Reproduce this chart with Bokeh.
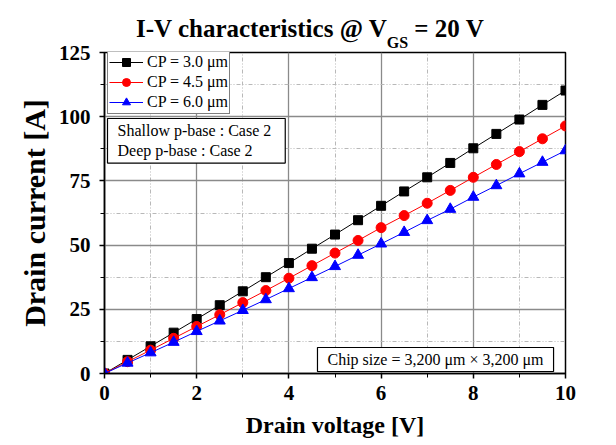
from bokeh.plotting import figure
from bokeh.models import Range1d, Label, Legend, LegendItem, SingleIntervalTicker, Div
from bokeh.layouts import column
from bokeh.embed import file_html
from bokeh.resources import INLINE

# ---- data ----
drain_voltage = [0.0, 0.5, 1.0, 1.5, 2.0, 2.5, 3.0, 3.5, 4.0, 4.5, 5.0,
                 5.5, 6.0, 6.5, 7.0, 7.5, 8.0, 8.5, 9.0, 9.5, 10.0]
cp30_current = [0.0, 5.3, 10.6, 15.9, 21.2, 26.6, 32.0, 37.5, 43.0, 48.6, 54.1,
                59.7, 65.3, 70.9, 76.4, 82.0, 87.7, 93.3, 98.9, 104.6, 110.2]
cp45_current = [0.0, 4.6, 9.1, 13.7, 18.3, 22.9, 27.6, 32.3, 37.1, 42.0, 46.9,
                51.8, 56.8, 61.5, 66.3, 71.3, 76.4, 81.4, 86.4, 91.4, 96.4]
cp60_current = [0.0, 4.1, 8.1, 12.2, 16.4, 20.5, 24.6, 28.8, 33.1, 37.4, 41.7,
                46.1, 50.5, 55.0, 59.6, 64.0, 68.7, 73.2, 77.8, 82.3, 86.8]
series_labels = ["CP = 3.0 \u03bcm", "CP = 4.5 \u03bcm", "CP = 6.0 \u03bcm"]
title_main = "I-V characteristics @ V"
title_sub = "GS"
title_tail = " = 20 V"

SERIF = "Liberation Serif"

title_html = (
    '<div style="position:relative;width:616px;height:38px;overflow:visible;">'
    '<span style="position:absolute;left:136px;top:16px;white-space:nowrap;'
    "font-family:'Liberation Serif';font-weight:bold;font-size:25px;line-height:25px;color:black;\">"
    + title_main
    + '<span style="font-size:16px;vertical-align:-11px;line-height:0;">' + title_sub + '</span>'
    + title_tail + '</span></div>'
)
title_div = Div(text=title_html, width=616, height=38, margin=0,
                styles={"overflow": "visible", "z-index": "5"})

p = figure(width=616, height=407, output_backend="svg", toolbar_location=None,
           x_range=Range1d(0, 10), y_range=Range1d(0, 125),
           min_border_left=104, min_border_right=51, min_border_top=14,
           min_border_bottom=72, margin=0)
p.title = None
p.background_fill_color = "white"
p.border_fill_color = None
p.outline_line_color = "black"
p.outline_line_width = 1.5

# axes
p.xaxis.ticker = SingleIntervalTicker(interval=2, num_minor_ticks=2)
p.yaxis.ticker = SingleIntervalTicker(interval=25, num_minor_ticks=2)
for ax in (p.xaxis[0], p.yaxis[0]):
    ax.axis_line_color = "black"
    ax.axis_line_width = 1.5
    ax.major_tick_line_color = "black"
    ax.minor_tick_line_color = "black"
    ax.major_tick_line_width = 1.5
    ax.minor_tick_line_width = 1
    ax.major_tick_out = 5
    ax.major_tick_in = 0
    ax.minor_tick_out = 4
    ax.minor_tick_in = 0
    ax.major_label_text_font = SERIF
    ax.major_label_text_font_style = "bold"
    ax.major_label_text_font_size = "21px"
    ax.major_label_text_color = "black"
    ax.axis_label_text_font = SERIF
    ax.axis_label_text_font_style = "bold"
    ax.axis_label_text_color = "black"

p.xaxis.major_label_standoff = 7
p.yaxis.major_label_standoff = 9
p.xaxis.axis_label = "Drain voltage [V]"
p.xaxis.axis_label_text_font_size = "24px"
p.xaxis.axis_label_standoff = 9
p.yaxis.axis_label = "Drain current [A]"
p.yaxis.axis_label_text_font_size = "30px"
p.yaxis.axis_label_standoff = 5

# grids
for g in (p.xgrid[0], p.ygrid[0]):
    g.grid_line_color = "#8a8a8a"
    g.grid_line_width = 1.3
    g.minor_grid_line_color = "#b8b8b8"
    g.minor_grid_line_width = 1
    g.minor_grid_line_dash = "4 2 1 2 1 2"

# data
l1 = p.line(drain_voltage, cp30_current, line_color="black", line_width=1)
m1 = p.scatter(drain_voltage, cp30_current, marker="square", size=9,
               fill_color="black", line_color="black")
l2 = p.line(drain_voltage, cp45_current, line_color="red", line_width=1)
m2 = p.scatter(drain_voltage, cp45_current, marker="circle", size=10,
               fill_color="red", line_color="red")
l3 = p.line(drain_voltage, cp60_current, line_color="blue", line_width=1)
m3 = p.scatter(drain_voltage, cp60_current, marker="triangle", size=11,
               fill_color="blue", line_color="blue")

legend = Legend(items=[
    LegendItem(label=series_labels[0], renderers=[l1, m1]),
    LegendItem(label=series_labels[1], renderers=[l2, m2]),
    LegendItem(label=series_labels[2], renderers=[l3, m3]),
], location=(3, 259))
legend.margin = 0
legend.padding = 1
legend.spacing = 0
legend.glyph_width = 34
legend.glyph_height = 20
legend.label_height = 20
legend.label_standoff = 4
legend.label_text_font = SERIF
legend.label_text_font_size = "16px"
legend.label_text_color = "black"
legend.border_line_color = "black"
legend.border_line_width = 1.2
legend.background_fill_alpha = 1
p.add_layout(legend)

# text boxes
p.add_layout(Label(x=0.065, y=99.3, text="Shallow p-base : Case 2\nDeep p-base : Case 2",
                   text_font=SERIF, text_font_size="16px", text_color="black",
                   text_align="left", text_baseline="top", text_line_height=1.15,
                   border_line_color="black", border_line_width=1.2,
                   background_fill_color="white",
                   padding=dict(top=4, right=14, bottom=4, left=10)))
p.add_layout(Label(x=4.62, y=0.78, text="Chip size = 3,200 \u03bcm \u00d7 3,200 \u03bcm",
                   text_font=SERIF, text_font_size="16px", text_color="black",
                   text_align="left", text_baseline="bottom",
                   border_line_color="black", border_line_width=1.2,
                   background_fill_color="white",
                   padding=dict(top=4, right=10, bottom=3, left=10)))

layout = column(title_div, p, spacing=0, margin=0)
open("out.html", "w").write(file_html(layout, INLINE))
